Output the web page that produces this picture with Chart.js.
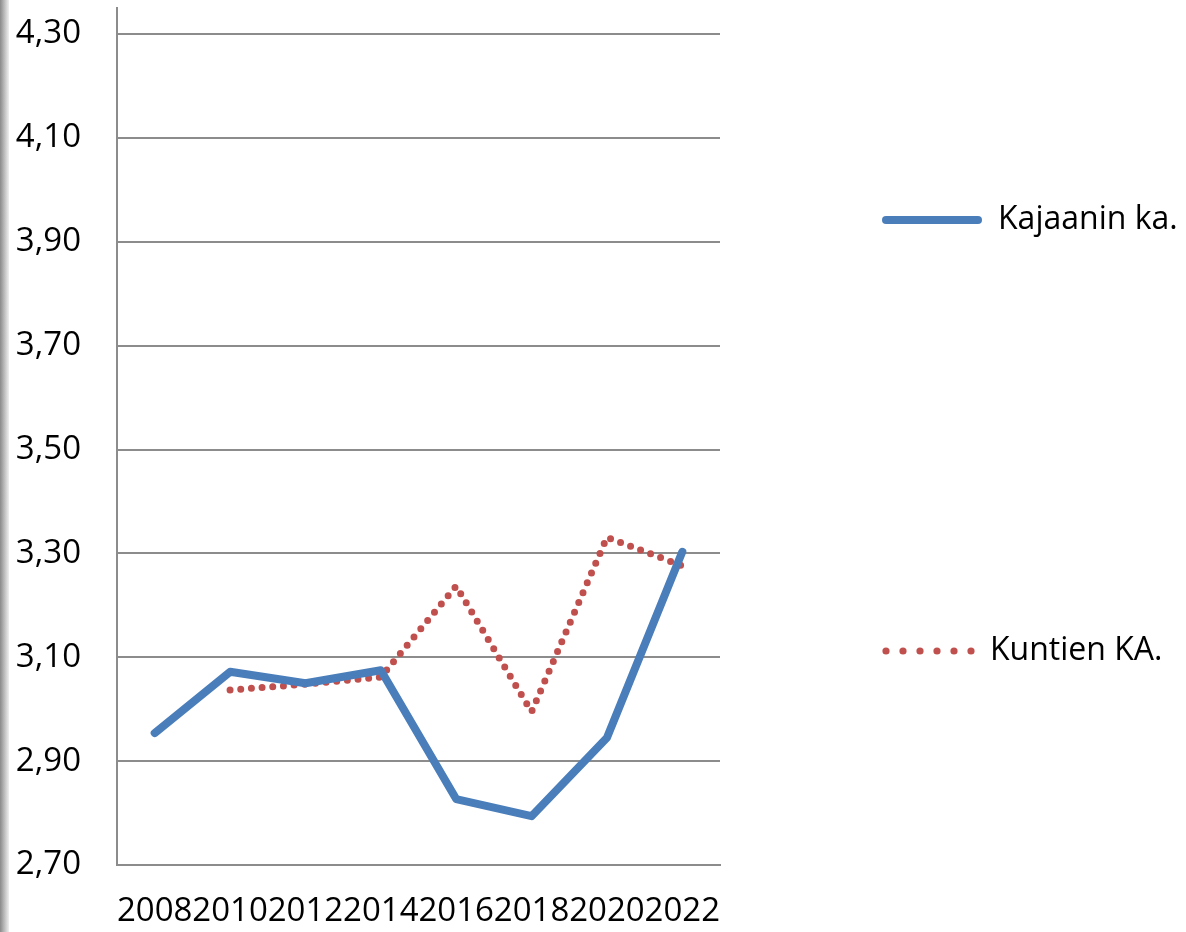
<!DOCTYPE html>
<html>
<head>
<meta charset="utf-8">
<script src="https://cdn.jsdelivr.net/npm/chart.js@4"></script>
<style>
  html, body { margin: 0; padding: 0; background: #fff; }
  #wrap { position: relative; width: 1186px; height: 932px; }
  #edge { position: absolute; left: 0; top: 0; width: 9px; height: 932px;
          background: linear-gradient(to right, #8a8a8a, #c8c8c8 60%, #f0f0f0); }
</style>
</head>
<body>
<div id="wrap">
  <canvas id="myChart" width="1186" height="932"></canvas>
  <div id="edge"></div>
</div>
<script>
const years = ["2008", "2010", "2012", "2014", "2016", "2018", "2020", "2022"];
const kajaani = [2.954, 3.072, 3.050, 3.075, 2.827, 2.794, 2.945, 3.303];
const kunnat = [null, 3.037, 3.048, 3.062, 3.237, 2.995, 3.331, 3.276];
const yMin = 2.70, yMax = 4.30, yStep = 0.20;

const FONT = "'Open Sans', 'Noto Sans', sans-serif";
const gridColor = "#8c8c8c";

// legend on the right, drawn by hand
const sideLegend = {
  id: "sideLegend",
  afterDraw(chart) {
    const ctx = chart.ctx;
    const area = chart.chartArea;
    ctx.save();
    // axis line goes a bit above the top gridline
    ctx.strokeStyle = gridColor;
    ctx.lineWidth = 2;
    ctx.beginPath();
    ctx.moveTo(area.left, area.top);
    ctx.lineTo(area.left, 7);
    ctx.stroke();

    ctx.font = "32px " + FONT;
    ctx.fillStyle = "#000";
    ctx.textBaseline = "middle";

    const d0 = chart.data.datasets[0];
    ctx.strokeStyle = d0.borderColor;
    ctx.lineWidth = 8;
    ctx.lineCap = "round";
    ctx.beginPath();
    ctx.moveTo(886, 220);
    ctx.lineTo(978, 220);
    ctx.stroke();
    ctx.fillText(d0.label, 998, 220);

    const d1 = chart.data.datasets[1];
    ctx.fillStyle = d1.borderColor;
    for (let i = 0; i < 6; i++) {
      ctx.beginPath();
      ctx.arc(886 + i * 17, 651, 3.6, 0, Math.PI * 2);
      ctx.fill();
    }
    ctx.fillStyle = "#000";
    ctx.fillText(d1.label, 990, 651);
    ctx.restore();
  }
};

const ctx = document.getElementById("myChart").getContext("2d");
const myChart = new Chart(ctx, {
  type: "line",
  data: {
    labels: years,
    datasets: [
      {
        label: "Kajaanin ka.",
        data: kajaani,
        borderColor: "#4a7ebb",
        borderWidth: 8,
        pointRadius: 0,
        tension: 0,
        borderJoinStyle: "round",
        borderCapStyle: "round"
      },
      {
        label: "Kuntien KA.",
        data: kunnat,
        borderColor: "#c0504d",
        borderWidth: 7,
        borderDash: [0, 10.7],
        borderCapStyle: "round",
        pointRadius: 0,
        tension: 0
      }
    ]
  },
  options: {
    responsive: false,
    animation: false,
    layout: { padding: { top: 34, right: 466, left: 0, bottom: 0 } },
    plugins: { legend: { display: false }, tooltip: { enabled: false } },
    scales: {
      x: {
        offset: true,
        grid: { display: false, drawTicks: false },
        border: { display: true, color: gridColor, width: 2 },
        ticks: {
          autoSkip: false, maxRotation: 0, padding: 27,
          color: "#000", font: { family: FONT, size: 33 }
        },
        afterFit(scale) { scale.height = 67; scale.paddingLeft = 0; scale.paddingRight = 0; }
      },
      y: {
        min: yMin,
        max: yMax,
        grid: { color: gridColor, lineWidth: 2, drawTicks: false },
        border: { display: true, color: gridColor, width: 2 },
        ticks: {
          stepSize: yStep,
          padding: 36,
          color: "#000",
          font: { family: FONT, size: 33 },
          callback: v => v.toFixed(2).replace(".", ",")
        },
        afterFit(scale) { scale.width = 117; scale.paddingTop = 0; scale.paddingBottom = 0; }
      }
    }
  },
  plugins: [sideLegend]
});
</script>
</body>
</html>
